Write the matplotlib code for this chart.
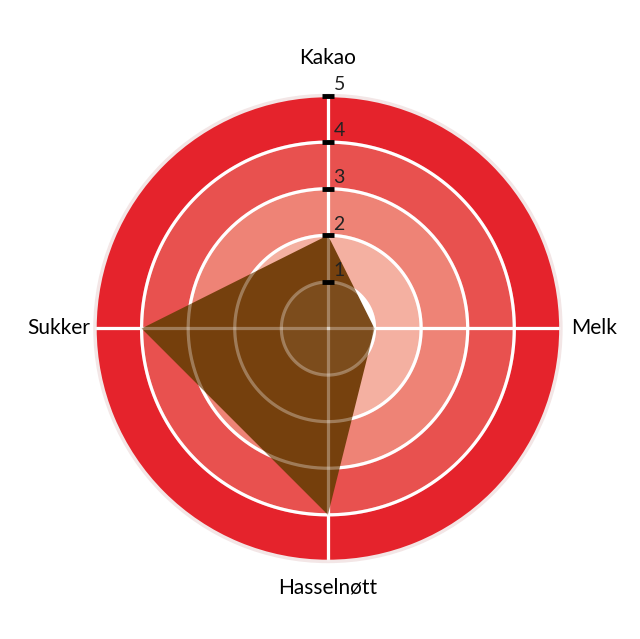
import matplotlib.pyplot as plt
import numpy as np

plt.rcParams['font.family'] = ['Lato', 'DejaVu Sans']

# Data
categories = ['Kakao', 'Melk', 'Hasselnøtt', 'Sukker']
values = [2, 1, 4, 4]
rings = [1, 2, 3, 4, 5]
ring_colors = ['#ffffff', '#f4b0a1', '#ee8376', '#e8514f', '#e5232c']

fig = plt.figure(figsize=(6.4, 6.39), dpi=100)
ax = fig.add_axes([0.1484, 0.1213, 0.728, 0.7293], projection='polar')
ax.set_theta_zero_location('N')
ax.set_theta_direction(-1)
ax.set_ylim(0, 5)

angles = np.linspace(0, 2 * np.pi, len(categories), endpoint=False)

# coloured bands
for i, r in enumerate(rings):
    ax.bar(0, 1, width=2 * np.pi, bottom=r - 1, color=ring_colors[i],
           edgecolor='none', zorder=0, align='edge')

# white grid
ax.grid(False)
th = np.linspace(0, 2 * np.pi, 400)
for r in rings[:-1]:
    ax.plot(th, [r] * len(th), color='white', lw=2.3, zorder=1)
for a in angles:
    ax.plot([a, a], [0, 5], color='white', lw=2.3, zorder=1)

# polygon
pa = np.append(angles, angles[0])
pv = values + values[:1]
ax.fill(pa, pv, color='#733f0b', alpha=0.98, zorder=2, lw=0)

# grid seen through the polygon
for r in rings[:-1]:
    ax.plot(th, [r] * len(th), color='white', lw=2.3, alpha=0.3, zorder=3)
for a in angles:
    ax.plot([a, a], [0, 5], color='white', lw=2.3, alpha=0.3, zorder=3)
ax.fill(th, [1] * len(th), color='white', alpha=0.05, zorder=3, lw=0)

ax.spines['polar'].set_color('#f3e6e6')
ax.spines['polar'].set_linewidth(2.5)

# ticks on the Kakao axis
ax.plot([0] * len(rings), rings, ls='none', marker='_', ms=9, mew=3.5,
        color='black', zorder=5, clip_on=False)
for r in rings:
    ax.annotate(str(r), xy=(0, r), xytext=(4, 2), textcoords='offset points',
                ha='left', va='bottom', fontsize=14,
                color='#222222', zorder=6, annotation_clip=False)

ax.set_xticks([])
ax.set_yticks([])

label_r = [5.8, 5.72, 5.55, 5.78]
for a, lab, lr in zip(angles, categories, label_r):
    ax.text(a, lr, lab, ha='center', va='center', fontsize=15, color='black')

fig.savefig('out.png', dpi=100, facecolor='white')
